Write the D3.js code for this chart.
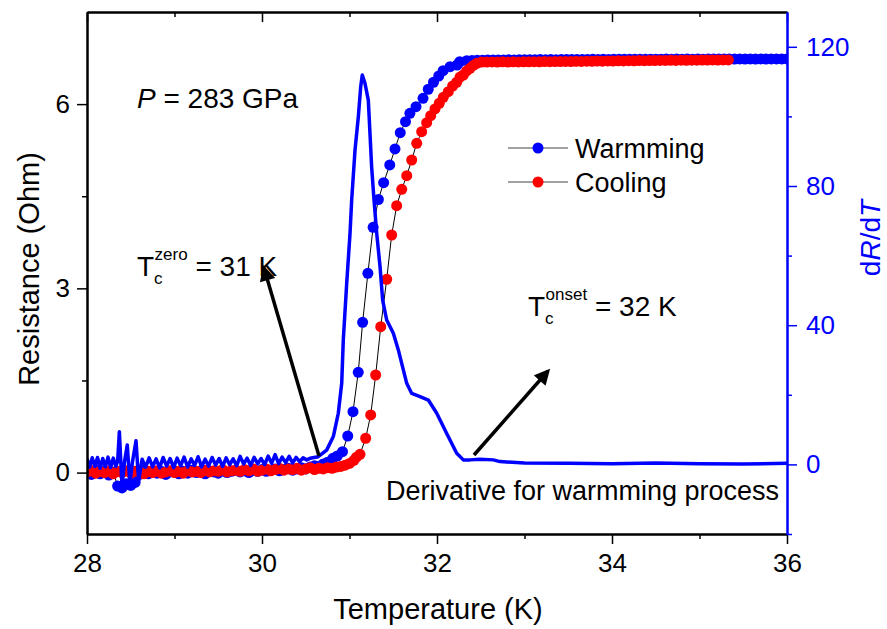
<!DOCTYPE html>
<html>
<head>
<meta charset="utf-8">
<script src="https://d3js.org/d3.v7.min.js"></script>
<style>
  body { margin: 0; background: #fff; }
  svg { font-family: Arial, "Liberation Sans", sans-serif; }
</style>
</head>
<body>
<svg width="887" height="629"></svg>
<script>
// warming run, resistance (Ohm) vs temperature (K)
var warmT = [28.00,28.05,28.10,28.15,28.20,28.25,28.30,28.35,28.40,28.45,28.50,28.55,28.60,28.65,28.70,28.75,28.80,28.85,28.90,28.95,
  29.00,29.05,29.10,29.15,29.20,29.25,29.30,29.35,29.40,29.45,29.50,29.55,29.60,29.65,29.70,29.75,29.80,29.85,29.90,29.95,
  30.00,30.05,30.10,30.15,30.20,30.25,30.30,30.35,30.40,30.45,30.50,30.55,30.60,30.65,30.70,30.75,
  30.81,30.86,30.92,30.98,31.04,31.10,31.15,31.21,31.27,31.33,31.39,31.46,31.52,31.58,31.64,31.69,31.76,31.84,31.90,31.96,
  32.02,32.07,32.15,32.23,32.26,32.34,
  32.40,32.46,32.52,32.58,32.64,32.70,32.76,32.82,32.88,32.94,33.00,33.06,33.12,33.18,33.24,33.30,33.36,33.42,33.48,33.54,
  33.60,33.66,33.72,33.78,33.84,33.90,33.96,34.02,34.08,34.14,34.20,34.26,34.32,34.38,34.44,34.50,34.56,34.62,34.68,34.74,
  34.80,34.86,34.92,34.98,35.04,35.10,35.16,35.22,35.28,35.34,35.40,35.46,35.52,35.58,35.64,35.70,35.76,35.82,35.88,35.94,36.00];
var warmR = [0.02,-0.03,0.04,-0.02,0.03,-0.04,0.01,-0.22,-0.25,-0.18,-0.21,-0.16,-0.03,0.02,-0.02,0.03,-0.01,0.02,-0.03,0.01,
  0.03,-0.02,0.02,-0.01,0.04,0.00,0.03,-0.02,0.02,0.01,-0.01,0.03,0.00,0.02,0.04,0.01,0.03,0.00,0.04,0.02,
  0.05,0.02,0.04,0.06,0.03,0.05,0.07,0.04,0.06,0.08,0.06,0.09,0.11,0.10,0.14,0.17,
  0.233,0.27,0.34,0.596,0.992,1.633,2.447,3.245,3.994,4.447,4.721,5.009,5.27,5.535,5.714,5.851,5.958,6.095,6.242,6.356,
  6.458,6.545,6.61,6.637,6.69,6.707,
  6.712,6.716,6.714,6.719,6.717,6.720,6.718,6.722,6.719,6.723,6.721,6.724,6.722,6.725,6.723,6.726,6.724,6.727,6.725,6.728,
  6.726,6.728,6.727,6.729,6.727,6.730,6.728,6.730,6.729,6.731,6.729,6.731,6.730,6.732,6.730,6.732,6.731,6.733,6.731,6.733,
  6.732,6.733,6.732,6.734,6.732,6.734,6.733,6.734,6.733,6.735,6.733,6.735,6.734,6.735,6.734,6.736,6.734,6.736,6.735,6.736,6.735];

// cooling run
var coolT = [28.00,28.05,28.10,28.15,28.20,28.25,28.30,28.35,28.40,28.45,28.50,28.55,28.60,28.65,28.70,28.75,28.80,28.85,28.90,28.95,
  29.00,29.05,29.10,29.15,29.20,29.25,29.30,29.35,29.40,29.45,29.50,29.55,29.60,29.65,29.70,29.75,29.80,29.85,29.90,29.95,
  30.00,30.05,30.10,30.15,30.20,30.25,30.30,30.35,30.40,30.45,30.50,30.55,30.60,30.65,30.70,30.75,30.80,30.85,30.90,30.95,
  31.00,31.05,31.08,
  31.12,31.185,31.242,31.299,31.357,31.425,31.482,31.539,31.597,31.654,31.711,31.768,31.825,31.882,31.928,31.977,
  32.026,32.072,32.129,32.179,32.225,32.263,32.301,32.339,32.377,32.415,32.454,
  32.51,32.57,32.63,32.69,32.75,32.81,32.87,32.93,32.99,33.05,33.11,33.17,33.23,33.29,33.35,33.41,33.47,33.53,33.59,33.65,
  33.71,33.77,33.83,33.89,33.95,34.01,34.07,34.13,34.19,34.25,34.31,34.37,34.43,34.49,34.55,34.61,34.67,34.73,34.79,34.85,
  34.91,34.97,35.03,35.09,35.15,35.21,35.27,35.33];
var coolR = [0.01,0.03,-0.01,0.02,0.00,0.03,-0.02,0.02,0.00,0.03,-0.01,0.02,0.01,-0.02,0.02,0.00,0.03,-0.01,0.01,0.03,
  0.00,0.02,-0.01,0.03,0.01,0.02,0.00,0.04,0.01,0.03,0.02,0.05,0.01,0.03,0.04,0.02,0.05,0.03,0.06,0.02,
  0.04,0.06,0.03,0.05,0.07,0.04,0.06,0.05,0.07,0.04,0.06,0.08,0.05,0.07,0.06,0.08,0.07,0.09,0.10,0.12,
  0.15,0.20,0.25,
  0.298,0.559,0.938,1.589,2.376,3.148,3.869,4.346,4.613,4.835,5.09,5.362,5.551,5.698,5.812,5.921,
  6.014,6.111,6.203,6.295,6.356,6.44,6.474,6.54,6.583,6.63,6.665,
  6.686,6.684,6.687,6.685,6.688,6.686,6.689,6.687,6.690,6.688,6.691,6.690,6.693,6.691,6.694,6.693,6.696,6.694,6.697,6.696,
  6.699,6.698,6.701,6.700,6.703,6.702,6.705,6.704,6.707,6.706,6.709,6.708,6.710,6.709,6.712,6.711,6.713,6.712,6.715,6.714,
  6.716,6.715,6.718,6.717,6.719,6.718,6.720,6.719];

// dR/dT of the warming run (right axis)
var derivT = [28.00,28.03,28.06,28.09,28.12,28.15,28.18,28.21,28.24,28.27,28.30,28.33,28.35,28.37,28.40,28.43,28.46,28.49,28.52,28.56,
  28.59,28.63,28.67,28.71,28.75,28.79,28.83,28.87,28.91,28.95,28.99,29.03,29.07,29.11,29.15,29.19,29.23,29.27,29.31,29.35,
  29.39,29.43,29.47,29.51,29.55,29.59,29.63,29.67,29.71,29.75,29.79,29.83,29.87,29.91,29.95,29.99,30.03,30.07,30.11,30.15,
  30.19,30.23,30.27,30.31,30.35,30.39,30.43,30.47,30.51,
  30.549,30.643,30.739,30.815,30.872,30.911,30.929,30.968,31.006,31.025,31.063,31.101,31.128,31.146,31.177,31.215,31.234,31.253,31.28,
  31.311,31.349,31.379,31.425,31.501,31.558,31.654,31.711,31.806,31.901,31.997,32.111,32.225,32.301,32.377,32.491,32.643,32.72,
  33.0,33.5,34.0,34.5,35.0,35.5,36.0];
var derivV = [1.6,-0.8,1.9,-0.6,2.0,-1.1,1.7,-0.7,2.1,-0.9,1.8,-0.6,0.9,9.4,-6.2,1.0,5.6,-5.5,0.8,6.8,
  -4.8,1.5,-0.8,1.9,-0.7,1.6,-1.0,2.0,-0.5,1.7,-0.9,1.8,-0.4,2.1,-0.8,1.6,-0.3,2.2,-0.7,1.5,
  -0.5,2.0,-0.2,1.7,-0.6,1.9,-0.1,1.6,-0.4,2.3,0.1,1.8,-0.3,2.0,0.2,1.7,-0.1,2.4,0.3,2.8,
  0.2,2.1,0.5,2.3,0.4,2.0,0.8,1.9,1.3,
  1.75,2.2,4.1,8.0,14.7,23.3,35.7,52.0,66.4,76.0,90.3,99.9,108.5,111.9,109.5,104.7,95.1,85.5,76.0,
  66.4,56.8,47.2,41.5,37.7,32.9,23.3,20.4,19.5,18.5,14.7,8.9,3.2,1.3,1.3,1.5,1.3,0.8,
  0.4,0.3,0.2,0.4,0.2,0.1,0.3];

var xTicks = [28, 30, 32, 34, 36];
var xMinor = [29, 31, 33, 35];
var yTicks = [0, 3, 6];
var yMinor = [1.5, 4.5];
var y2Ticks = [0, 40, 80, 120];
var y2Minor = [-20, 20, 60, 100];

var blue = "#0000ff", red = "#ff0000";

var svg = d3.select("svg"),
    margin = {top: 12, right: 100, bottom: 95, left: 87},
    width = +svg.attr("width") - margin.left - margin.right,
    height = +svg.attr("height") - margin.top - margin.bottom,
    g = svg.append("g").attr("transform", "translate(" + margin.left + "," + margin.top + ")");

var x = d3.scaleLinear().domain([28, 36]).range([0, width]);
var y = d3.scaleLinear().domain([-1, 7.5]).range([height, 0]);
var y2 = d3.scaleLinear().domain([-20, 130]).range([height, 0]);

var warm = warmT.map(function(t, i) { return {t: t, v: warmR[i]}; });
var cool = coolT.map(function(t, i) { return {t: t, v: coolR[i]}; });
var deriv = derivT.map(function(t, i) { return {t: t, v: derivV[i]}; });

svg.append("defs").append("clipPath").attr("id", "clip")
    .append("rect").attr("width", width).attr("height", height);

var plot = g.append("g").attr("clip-path", "url(#clip)");

var rLine = d3.line()
    .x(function(d) { return x(d.t); })
    .y(function(d) { return y(d.v); });

// warming then cooling, thin black joining line under the dots
[[warm, blue], [cool, red]].forEach(function(s) {
  plot.append("path")
      .datum(s[0])
      .attr("fill", "none")
      .attr("stroke", "#000")
      .attr("stroke-width", 1)
      .attr("d", rLine);
  plot.selectAll(null)
      .data(s[0])
      .enter().append("circle")
      .attr("cx", function(d) { return x(d.t); })
      .attr("cy", function(d) { return y(d.v); })
      .attr("r", 5.5)
      .attr("fill", s[1]);
});

// derivative curve
plot.append("path")
    .datum(deriv)
    .attr("fill", "none")
    .attr("stroke", blue)
    .attr("stroke-width", 3.5)
    .attr("stroke-linejoin", "round")
    .attr("d", d3.line()
        .x(function(d) { return x(d.t); })
        .y(function(d) { return y2(d.v); }));

// axes
function styleAxis(sel, color) {
  sel.selectAll("path").attr("stroke", color).attr("stroke-width", 2);
  sel.selectAll("line").attr("stroke", color).attr("stroke-width", 1.5);
  sel.selectAll("text").attr("fill", color).style("font-size", "26px");
}

g.append("g")
    .attr("transform", "translate(0," + height + ")")
    .call(d3.axisBottom(x).tickValues(xTicks).tickSize(10).tickPadding(10).tickSizeOuter(0))
    .call(styleAxis, "#000");
g.append("g")
    .attr("transform", "translate(0," + height + ")")
    .call(d3.axisBottom(x).tickValues(xMinor).tickSize(5).tickFormat("").tickSizeOuter(0))
    .call(styleAxis, "#000");
// top frame, ticks pointing in
g.append("g")
    .call(d3.axisBottom(x).tickValues(xTicks).tickSize(10).tickFormat("").tickSizeOuter(0))
    .call(styleAxis, "#000");
g.append("g")
    .call(d3.axisBottom(x).tickValues(xMinor).tickSize(5).tickFormat("").tickSizeOuter(0))
    .call(styleAxis, "#000");

g.append("g")
    .call(d3.axisLeft(y).tickValues(yTicks).tickSize(10).tickPadding(7).tickSizeOuter(0))
    .call(styleAxis, "#000");
g.append("g")
    .call(d3.axisLeft(y).tickValues(yMinor).tickSize(5).tickFormat("").tickSizeOuter(0))
    .call(styleAxis, "#000");

g.append("g")
    .attr("transform", "translate(" + width + ",0)")
    .call(d3.axisRight(y2).tickValues(y2Ticks).tickSize(10).tickPadding(9).tickSizeOuter(0))
    .call(styleAxis, blue);
g.append("g")
    .attr("transform", "translate(" + width + ",0)")
    .call(d3.axisRight(y2).tickValues(y2Minor).tickSize(5).tickFormat("").tickSizeOuter(0))
    .call(styleAxis, blue);

// axis titles
svg.append("text")
    .attr("x", margin.left + width / 2 + 1).attr("y", 619)
    .attr("text-anchor", "middle")
    .style("font-size", "29px")
    .text("Temperature (K)");
svg.append("text")
    .attr("transform", "translate(39," + (margin.top + height / 2 - 4) + ") rotate(-90)")
    .attr("text-anchor", "middle")
    .style("font-size", "29px")
    .text("Resistance (Ohm)");
var t2 = svg.append("text")
    .attr("transform", "translate(880," + (margin.top + height / 2 - 35) + ") rotate(-90)")
    .attr("text-anchor", "middle")
    .attr("fill", blue)
    .style("font-size", "28px");
t2.append("tspan").text("d");
t2.append("tspan").style("font-style", "italic").text("R");
t2.append("tspan").text("/d");
t2.append("tspan").style("font-style", "italic").text("T");

// annotations
var pt = svg.append("text").attr("x", 137).attr("y", 108).style("font-size", "28px");
pt.append("tspan").style("font-style", "italic").text("P");
pt.append("tspan").text(" = 283 GPa");

function tcLabel(x0, y0, sup, rest) {
  var t = svg.append("text").attr("x", x0).attr("y", y0).style("font-size", "28px");
  t.append("tspan").text("T");
  t.append("tspan").attr("dy", 8).style("font-size", "17px").text("c");
  t.append("tspan").attr("dx", -8).attr("dy", -24).style("font-size", "17px").text(sup);
  t.append("tspan").attr("dy", 16).text(" " + rest);
}
tcLabel(137, 276, "zero", "= 31 K");
tcLabel(528, 316, "onset", "= 32 K");

svg.append("text")
    .attr("x", 386).attr("y", 500)
    .style("font-size", "27px")
    .text("Derivative for warmming process");

// arrows
svg.append("defs").append("marker")
    .attr("id", "head")
    .attr("viewBox", "0 0 10 10")
    .attr("refX", 8).attr("refY", 5)
    .attr("markerWidth", 5).attr("markerHeight", 4.5)
    .attr("markerUnits", "strokeWidth")
    .attr("orient", "auto")
    .append("path").attr("d", "M0,0L10,5L0,10z").attr("fill", "#000");

[[[319, 456], [264, 268]], [[474, 455], [548, 371]]].forEach(function(a) {
  svg.append("line")
      .attr("x1", a[0][0]).attr("y1", a[0][1])
      .attr("x2", a[1][0]).attr("y2", a[1][1])
      .attr("stroke", "#000")
      .attr("stroke-width", 3.5)
      .attr("marker-end", "url(#head)");
});

// legend
var legend = svg.append("g");
[["Warmming", blue, 148], ["Cooling", red, 182]].forEach(function(l) {
  legend.append("line")
      .attr("x1", 508).attr("x2", 568)
      .attr("y1", l[2]).attr("y2", l[2])
      .attr("stroke", "#444").attr("stroke-width", 1.2);
  legend.append("circle")
      .attr("cx", 538).attr("cy", l[2]).attr("r", 5.5)
      .attr("fill", l[1]);
  legend.append("text")
      .attr("x", 575).attr("y", l[2] + 10)
      .style("font-size", "27px")
      .text(l[0]);
});
</script>
</body>
</html>
